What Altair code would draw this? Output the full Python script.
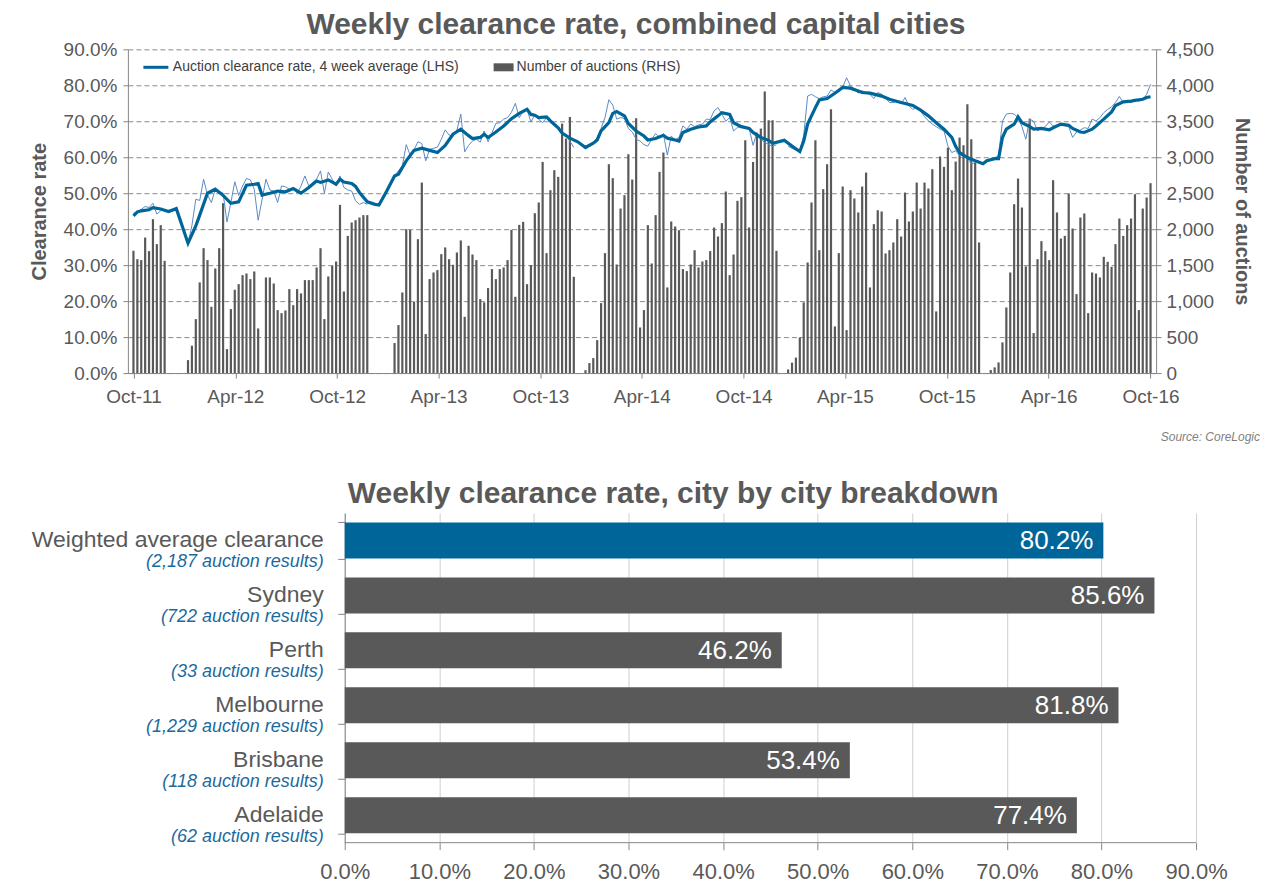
import altair as alt
import pandas as pd

FONT = "Liberation Sans"
GRAY = "#595959"
BLUE = "#006699"
THIN = "#5b8bc4"
CBLUE = "#1b6a9e"

# ---------------- top chart data (week 0 = first week of Oct-2011) ----------------
# number of auctions per week (RHS); None = no auctions held that week
auc_2011 = [1700, 1583, 1570, 1884, 1695, 2139, 1792, 2056, 1560]
auc_2012a = [180, 380, 750, 1260, 1736, 1570, 921, 1454, 1736, 2361, 333, 889, 1158,
             1236, 1361, 1384, 1306, 1412, 620]
auc_2012b = [1329, 1329, 1245, 875, 833, 870, 1167, 944, 1167, 1107, 1292, 1292, 1292,
             1468, 1736, 750, 1343, 1491, 1551, 2338, 1134, 1907, 2093, 2125, 2162, 2195, 2195]
auc_2013 = [417, 667, 1120, 2000, 1991, 995, 1861, 2648, 542, 1306, 1398, 1431, 1653, 1746,
            1583, 1505, 1676, 1843, 782, 1769, 1648, 1570, 1028, 982, 1181, 1445, 1306, 1445,
            1468, 1570, 1991, 1060, 2060, 2102, 1236, 1500, 2222, 2371, 2935, 1667, 2542, 2820,
            2727, 3468, 3260, 3560, 1338]
auc_2014 = [40, 139, 208, 458, 972, 1667, 2903, 2709, 1509, 2287, 2472, 3042, 2690, 3542, 634,
            875, 2056, 1523, 2195, 2797, 3065, 1190, 2107, 2037, 1986, 1445, 1417, 1509, 1708,
            1468, 1551, 1570, 1695, 2023, 1898, 2084, 2523, 1361, 1648, 2394, 2445, 3236, 2023,
            2935, 3320, 3398, 3912, 3514, 3514, 1699]
auc_2015 = [50, 145, 215, 495, 982, 1537, 2371, 3236, 1708, 2556, 2903, 3667, 648, 1667, 2593,
            597, 2542, 2426, 2232, 2593, 2787, 1190, 2070, 2264, 2246, 1662, 1708, 1815, 2139,
            1898, 2509, 2107, 2246, 2648, 2287, 2648, 2565, 2834, 857, 3010, 2866, 3134, 2542,
            2940, 3273, 3167, 3736, 3250, 2926, 1815]
auc_2016 = [42, 79, 148, 426, 912, 1398, 2347, 2704, 2301, 1482, 3537, 556, 1583, 1833, 1695,
            1570, 2681, 2232, 1870, 1907, 2496, 2009, 1097, 2162, 2218, 833, 1398, 1384, 1329,
            1616, 1546, 1477, 1792, 2148, 1907, 2056, 2148, 2486, 875, 2287, 2440, 2639]

# weekly clearance rate (thin line), same weeks as the auctions
thin_2011 = [44.4, 44.8, 45.5, 46.3, 46.0, 47.2, 44.2, 45.1, 45.5]
thin_2012a = [36.0, 41.0, 48.3, 48.0, 53.9, 49.5, 47.4, 51.1, 50.5, 50.0, 42.0, 47.4, 53.2,
              49.4, 52.0, 54.1, 53.7, 51.1, 42.5]
thin_2012b = [53.9, 50.9, 50.6, 47.4, 52.0, 51.8, 51.1, 51.3, 50.0, 52.0, 54.8, 52.0, 53.0,
              53.9, 56.2, 50.0, 55.9, 53.9, 52.0, 54.8, 51.6, 50.9, 50.6, 47.9, 46.9, 47.4, 46.9]
thin_2013 = [54.8, 56.2, 57.6, 63.5, 60.6, 62.0, 64.3, 63.8, 59.0, 62.2, 62.5, 62.8, 65.0, 67.6,
             66.2, 65.8, 67.5, 72.0, 61.5, 63.3, 64.5, 65.0, 64.2, 67.3, 64.3, 66.8, 69.4, 69.6,
             70.6, 71.0, 72.5, 75.0, 71.0, 72.8, 73.3, 69.8, 71.8, 70.5, 69.6, 71.0, 69.6, 68.7,
             67.8, 66.6, 65.9, 64.5, 62.7]
thin_2014 = [63.0, 63.5, 64.0, 65.5, 68.0, 71.0, 76.0, 74.5, 70.6, 71.0, 70.8, 68.0, 67.0, 65.0,
             64.5, 63.5, 63.1, 65.0, 66.6, 65.5, 66.5, 60.6, 65.9, 64.8, 65.5, 68.7, 67.8, 69.2,
             68.5, 69.0, 69.2, 70.6, 70.5, 72.9, 73.8, 72.0, 70.0, 71.0, 67.3, 68.3, 68.4, 68.2,
             68.0, 63.3, 66.9, 65.0, 64.1, 63.6, 63.0, 63.5]
thin_2015 = [63.0, 62.5, 62.0, 61.8, 66.0, 77.0, 77.5, 76.8, 76.3, 76.8, 77.0, 78.7, 78.0, 78.2,
             79.5, 82.1, 79.8, 79.0, 77.8, 78.5, 78.0, 77.5, 76.3, 78.0, 77.5, 76.5, 75.2, 75.2,
             75.7, 74.8, 76.6, 74.3, 73.3, 73.8, 72.8, 71.3, 70.1, 69.2, 68.5, 67.8, 67.3, 63.1,
             61.3, 61.8, 60.4, 60.6, 59.9, 58.1, 58.5, 59.0]
thin_2016 = [59.5, 59.8, 60.5, 70.0, 72.0, 72.2, 72.0, 71.0, 68.5, 65.0, 70.6, 70.0, 67.3, 68.0,
             68.5, 69.8, 68.7, 68.6, 68.9, 68.7, 68.5, 65.5, 67.0, 67.6, 68.2, 68.0, 70.6, 70.1,
             71.0, 72.4, 73.3, 74.0, 75.2, 76.9, 75.2, 75.5, 75.2, 76.1, 75.6, 76.0, 77.5, 80.3]

# 4 week average clearance rate (thick line)
avg_weeks = [0, 1, 2, 4, 5, 7, 9, 11, 14, 16, 17, 19, 21, 23, 25, 27, 29, 31, 32, 33, 35, 37, 39,
             41, 43, 45, 47, 48, 50, 52, 53, 54, 56, 57, 58, 60, 62, 63, 65, 67, 68, 70, 72, 74,
             76, 78, 80, 82, 84, 86, 87, 89, 90, 91, 93, 95, 97, 99, 101, 102, 103, 104, 106,
             107, 109, 110, 112, 114, 116, 118, 119, 120, 122, 123, 124, 126, 127, 129, 131,
             132, 134, 136, 137, 139, 140, 141, 143, 145, 147, 148, 150, 151, 153, 154, 156,
             158, 159, 161, 163, 164, 167, 169, 171, 172, 173, 175, 176, 178, 180, 182, 184,
             186, 187, 189, 192, 194, 196, 197, 200, 202, 204, 206, 208, 210, 211, 212, 214,
             216, 218, 219, 221, 222, 223, 224, 226, 227, 228, 230, 231, 233, 235, 236, 238,
             240, 241, 243, 244, 246, 247, 249, 251, 252, 254, 256, 257, 259, 260, 261]
avg_rates = [43.7, 44.8, 45.1, 45.4, 46.0, 45.6, 44.9, 45.7, 36.1, 40.9, 43.9, 50.0, 51.1, 49.4,
             47.2, 47.6, 52.2, 52.5, 52.7, 49.5, 50.0, 50.6, 50.4, 51.3, 50.0, 51.6, 53.4, 53.0,
             53.7, 52.5, 53.9, 53.1, 52.7, 51.9, 50.2, 47.6, 46.9, 46.7, 50.6, 54.8, 55.3, 59.0,
             61.9, 62.5, 61.9, 61.3, 63.3, 66.4, 67.8, 66.0, 65.2, 65.5, 66.4, 65.5, 67.0, 68.7,
             70.7, 72.2, 73.3, 71.9, 71.7, 71.0, 71.2, 70.1, 68.2, 66.7, 65.3, 64.3, 62.7, 63.9,
             64.8, 67.3, 69.6, 72.2, 72.7, 71.5, 69.4, 67.3, 65.9, 64.8, 65.2, 66.1, 65.3, 64.8,
             64.5, 66.9, 67.8, 68.4, 68.7, 69.8, 71.5, 72.4, 71.9, 69.6, 68.5, 68.0, 66.9, 65.5,
             64.7, 63.9, 64.7, 63.1, 61.6, 64.5, 69.2, 73.8, 75.9, 76.3, 77.8, 79.4, 79.2, 78.4,
             78.0, 77.8, 77.0, 76.1, 75.5, 75.2, 74.4, 73.1, 71.5, 69.6, 67.8, 65.5, 63.0, 61.3,
             59.9, 59.0, 58.2, 59.0, 59.6, 59.6, 65.5, 67.8, 69.2, 71.2, 69.6, 68.5, 67.8, 68.0,
             67.6, 68.2, 69.2, 68.9, 68.0, 67.0, 66.9, 67.8, 68.7, 70.6, 72.6, 74.4, 75.4, 75.6,
             75.8, 76.1, 76.6, 76.8]

x_ticks = ["2011-10-01", "2012-04-01", "2012-10-01", "2013-04-01", "2013-10-01", "2014-04-01",
           "2014-10-01", "2015-04-01", "2015-10-01", "2016-04-01", "2016-10-01"]

# ---------------- bottom chart data ----------------
cities = ["Weighted average clearance", "Sydney", "Perth", "Melbourne", "Brisbane", "Adelaide"]
results = ["(2,187 auction results)", "(722 auction results)", "(33 auction results)",
           "(1,229 auction results)", "(118 auction results)", "(62 auction results)"]
city_rates = [80.2, 85.6, 46.2, 81.8, 53.4, 77.4]
city_kind = ["avg", "city", "city", "city", "city", "city"]

# ---------------- assemble tables ----------------
auctions = auc_2011 + [None] * 5 + auc_2012a + [None] + auc_2012b + [None] * 6 + auc_2013 + \
    [None] * 2 + auc_2014 + [None] * 2 + auc_2015 + [None] * 2 + auc_2016
thin = thin_2011 + [None] * 5 + thin_2012a + [None] + thin_2012b + [None] * 6 + thin_2013 + \
    [None] * 2 + thin_2014 + [None] * 2 + thin_2015 + [None] * 2 + thin_2016

start = pd.Timestamp("2011-10-01")
wk_dates = [start + pd.Timedelta(days=7 * i) for i in range(len(auctions))]

bar_rows = [{"date": d, "auctions": a, "s": "Number of auctions (RHS)"}
            for d, a in zip(wk_dates, auctions) if a is not None]
df_bars = pd.DataFrame(bar_rows)

thin_rows = []
seg, gap = 0, 0
for d, v in zip(wk_dates, thin):
    if v is None:
        gap += 1
        continue
    if gap >= 2:
        seg += 1
    gap = 0
    thin_rows.append({"date": d, "rate": v, "seg": seg})
df_thin = pd.DataFrame(thin_rows)

df_avg = pd.DataFrame({"date": [wk_dates[w] for w in avg_weeks], "rate": avg_rates,
                       "s": "Auction clearance rate, 4 week average (LHS)"})

TW, TH = 1029, 324

x_top = alt.X("date:T",
              scale=alt.Scale(domain=[alt.DateTime(year=2011, month=9, date=30),
                                      alt.DateTime(year=2016, month=10, date=2)]),
              axis=alt.Axis(values=[alt.DateTime(year=int(t[:4]), month=int(t[5:7]), date=1)
                                    for t in x_ticks],
                            format="%b-%y", title=None, grid=False, tickSize=5,
                            labelPadding=9, labelFontSize=19, labelFlush=False))

y_rate = alt.Y("rate:Q", scale=alt.Scale(domain=[0, 90], nice=False),
               axis=alt.Axis(orient="left", values=list(range(0, 91, 10)),
                             labelExpr="format(datum.value, '.1f') + '%'",
                             title="Clearance rate", titlePadding=14,
                             grid=True, gridDash=[5, 3], gridColor="#8a8a8a",
                             tickSize=5, labelPadding=6, labelFontSize=19))

bars = alt.Chart(df_bars).mark_bar(size=2.2).encode(
    x=x_top,
    y=alt.Y("auctions:Q", scale=alt.Scale(domain=[0, 4500], nice=False),
            axis=alt.Axis(orient="right", values=list(range(0, 4501, 500)), format=",d",
                          title="Number of auctions", titlePadding=18, grid=False,
                          tickSize=5, labelPadding=5, labelFontSize=19)),
    fill=alt.Fill("s:N", scale=alt.Scale(domain=["Number of auctions (RHS)"], range=[GRAY]),
                  legend=alt.Legend(orient="none", legendX=366, legendY=8, title=None,
                                    symbolType="M-1,-0.4L1,-0.4L1,0.4L-1,0.4Z",
                                    symbolSize=400, symbolStrokeWidth=0, labelLimit=0,
                                    labelFontSize=14, labelColor="#404040", labelOffset=3)),
)

thin_line = alt.Chart(df_thin).mark_line(color=THIN, strokeWidth=1).encode(
    x=x_top, y=y_rate, detail="seg:N")

thick_line = alt.Chart(df_avg).mark_line(strokeWidth=3.2).encode(
    x=x_top, y=y_rate,
    stroke=alt.Stroke("s:N",
                      scale=alt.Scale(domain=["Auction clearance rate, 4 week average (LHS)"],
                                      range=[BLUE]),
                      legend=alt.Legend(orient="none", legendX=14, legendY=4, title=None,
                                        symbolType="stroke", symbolSize=625, labelLimit=0,
                                        symbolStrokeWidth=3, labelFontSize=14,
                                        labelColor="#404040", labelOffset=3)))

source = alt.Chart(pd.DataFrame({"t": ["Source:  CoreLogic"]})).mark_text(
    align="right", baseline="middle", fontStyle="italic", fontSize=12, color="#7f7f7f"
).encode(text="t:N", x=alt.value(1133), y=alt.value(388))

top = alt.layer(bars, alt.layer(thin_line, thick_line), source).resolve_scale(
    y="independent"
).properties(
    width=TW, height=TH,
    title=alt.TitleParams("Weekly clearance rate, combined capital cities", fontSize=30,
                          fontWeight="bold", color=GRAY, anchor="middle", dx=-6, offset=0),
)

# ---------------- bottom chart ----------------
df_c = pd.DataFrame({"city": cities, "results": results, "rate": city_rates, "kind": city_kind,
                     "label": [f"{v:.1f}%" for v in city_rates]})
df_axis = pd.DataFrame({"lo": [0], "hi": [90]})

BW, BH = 1069, 330
y_city = alt.Y("city:N", sort=cities,
               scale=alt.Scale(paddingInner=0.345, paddingOuter=0.1725),
               axis=alt.Axis(labels=False, title=None, offset=-217, tickBand="extent",
                             tickSize=7, grid=False))
x_rate = alt.X("rate:Q", scale=alt.Scale(domain=[0, 90], range=[217, 1069], nice=False),
               axis=alt.Axis(values=list(range(0, 91, 10)),
                             labelExpr="format(datum.value, '.1f') + '%'",
                             title=None, grid=True, gridColor="#cfcfcf", domain=False,
                             tickSize=7, labelPadding=12, labelFontSize=22,
                             labelFlush=False, labelOverlap=False))

cbars = alt.Chart(df_c).mark_bar().encode(
    x=x_rate, y=y_city,
    color=alt.Color("kind:N", scale=alt.Scale(domain=["avg", "city"], range=[BLUE, GRAY]),
                    legend=None))
vals = alt.Chart(df_c).mark_text(align="right", baseline="middle", dx=-10, dy=1, fontSize=26,
                                 color="white").encode(x=x_rate, y=y_city, text="label:N")
names = alt.Chart(df_c).mark_text(align="right", baseline="middle", dy=0, fontSize=23,
                                  color=GRAY).encode(x=alt.value(196), y=y_city, text="city:N")
counts = alt.Chart(df_c).mark_text(align="right", baseline="middle", dy=22, fontSize=18,
                                   fontStyle="italic", color=CBLUE).encode(
    x=alt.value(196), y=y_city, text="results:N")
xline = alt.Chart(df_axis).mark_rule(color="#878787").encode(
    x=alt.X("lo:Q"), x2="hi:Q", y=alt.value(BH))

bottom = alt.layer(cbars, vals, names, counts, xline).properties(
    width=BW, height=BH,
    title=alt.TitleParams("Weekly clearance rate, city by city breakdown", fontSize=30,
                          fontWeight="bold", color=GRAY, anchor="start", frame="group",
                          dx=220, offset=4),
)

chart = alt.vconcat(top, bottom, spacing=36).properties(
    padding={"left": 21, "top": 2, "right": 5, "bottom": 5}
).configure(font=FONT).configure_view(stroke=None).configure_axis(
    labelColor=GRAY, titleColor=GRAY, domainColor="#878787", tickColor="#878787",
    titleFontSize=20, titleFontWeight="bold", labelFont=FONT, titleFont=FONT
).configure_title(font=FONT)

chart.save("out.html", embed_options={"renderer": "svg", "actions": False})
